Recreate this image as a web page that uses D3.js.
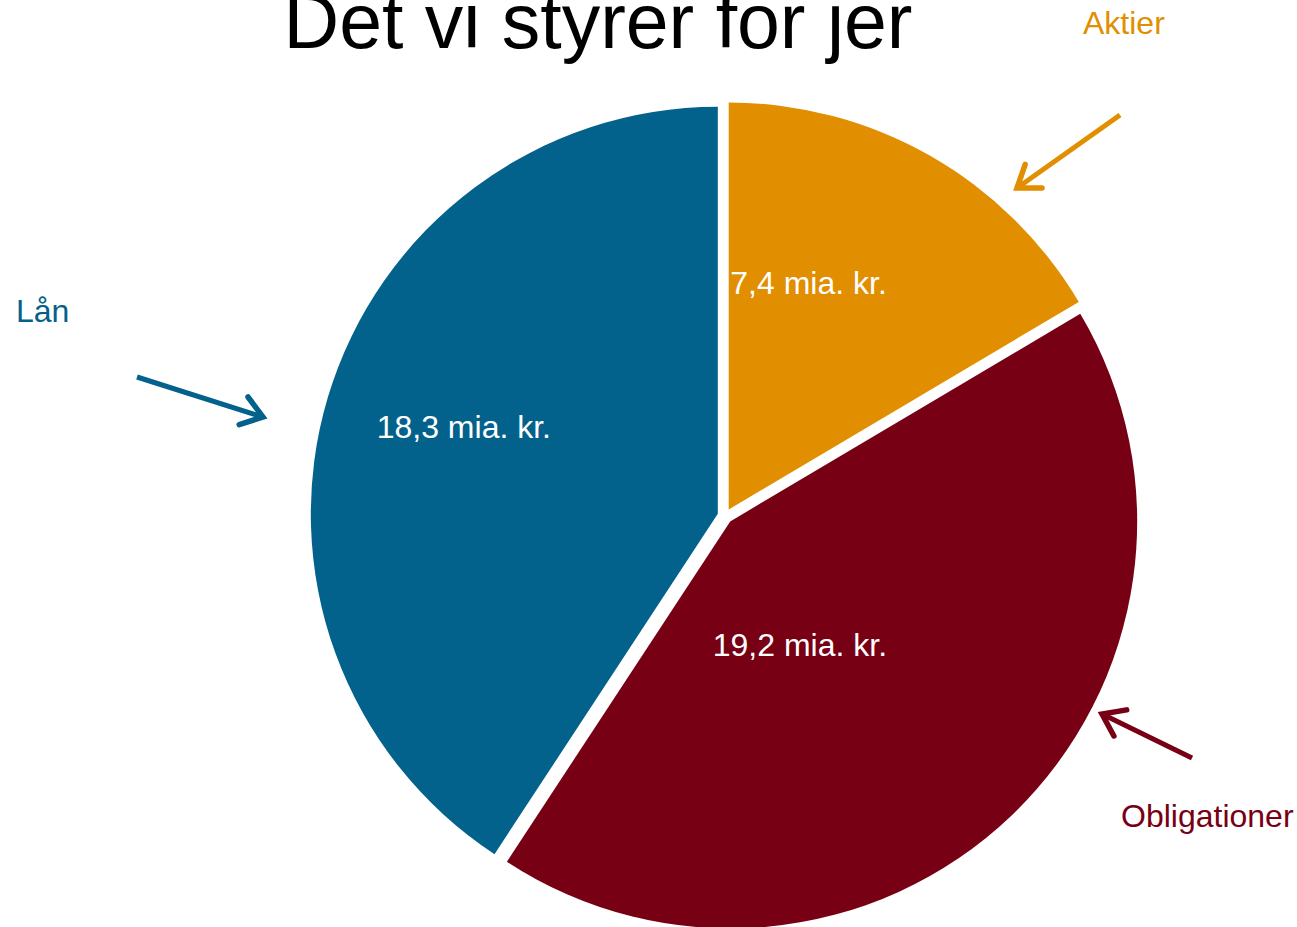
<!DOCTYPE html>
<html>
<head>
<meta charset="utf-8">
<script src="https://d3js.org/d3.v7.min.js"></script>
<style>
  body { margin: 0; background: #fff; }
  text { font-family: "Liberation Sans", Arial, sans-serif; }
</style>
</head>
<body>
<script>
// data
var categories = ["Aktier", "Obligationer", "Lån"];
var values = [7.4, 19.2, 18.3];
var valueLabels = ["7,4 mia. kr.", "19,2 mia. kr.", "18,3 mia. kr."];
var colors = ["#e18e00", "#770014", "#03628c"];
var title = "Det vi styrer for jer";

var W = 1297, H = 927;
var cx = 725, cy = 516, R = 407, explode = 7.5;

var svg = d3.select("body").append("svg")
  .attr("width", W)
  .attr("height", H);

var pie = d3.pie().sort(null).value(function(d) { return d; });
var arcs = pie(values);

var arc = d3.arc().innerRadius(0).outerRadius(R);
var labelArc = d3.arc().innerRadius(R * 0.6).outerRadius(R * 0.6);

// small nudges so labels sit where the original has them
var labelNudge = [[-41, -14], [-99, -53], [-20, -17]];

function offset(d) {
  var a = (d.startAngle + d.endAngle) / 2;
  return [cx + explode * Math.sin(a), cy - explode * Math.cos(a)];
}

var g = svg.selectAll("g.slice")
  .data(arcs)
  .enter()
  .append("g")
  .attr("class", "slice")
  .attr("transform", function(d) { var o = offset(d); return "translate(" + o[0] + "," + o[1] + ")"; });

g.append("path")
  .attr("d", arc)
  .attr("fill", function(d, i) { return colors[i]; });

g.append("text")
  .attr("transform", function(d, i) {
    var c = labelArc.centroid(d);
    return "translate(" + (c[0] + labelNudge[i][0]) + "," + (c[1] + labelNudge[i][1]) + ")";
  })
  .attr("text-anchor", "middle")
  .attr("dy", "0.35em")
  .attr("font-size", 32)
  .attr("fill", "#fff")
  .text(function(d, i) { return valueLabels[i]; });

// title (top is cut by the page edge, as in the original)
svg.append("text")
  .attr("x", 598)
  .attr("y", 48)
  .attr("text-anchor", "middle")
  .attr("font-size", 77)
  .attr("fill", "#000")
  .text(title);

// category callouts: text position + arrow start/end
var callouts = [
  { tx: 1083, ty: 34, x1: 1120, y1: 115, x2: 1017, y2: 188 },
  { tx: 1121, ty: 827, x1: 1192, y1: 758, x2: 1102, y2: 714 },
  { tx: 16, ty: 322, x1: 137, y1: 377, x2: 263, y2: 417 }
];

callouts.forEach(function(c, i) {
  svg.append("text")
    .attr("x", c.tx)
    .attr("y", c.ty)
    .attr("font-size", 32)
    .attr("fill", colors[i])
    .text(categories[i]);

  var ang = Math.atan2(c.y2 - c.y1, c.x2 - c.x1);
  var hl = 25, ha = 0.62;
  var p1 = [c.x2 - hl * Math.cos(ang - ha), c.y2 - hl * Math.sin(ang - ha)];
  var p2 = [c.x2 - hl * Math.cos(ang + ha), c.y2 - hl * Math.sin(ang + ha)];

  svg.append("line")
    .attr("x1", c.x1).attr("y1", c.y1)
    .attr("x2", c.x2).attr("y2", c.y2)
    .attr("stroke", colors[i])
    .attr("stroke-width", 5);

  svg.append("path")
    .attr("d", "M" + p1 + "L" + [c.x2, c.y2] + "L" + p2)
    .attr("fill", "none")
    .attr("stroke", colors[i])
    .attr("stroke-width", 5.5)
    .attr("stroke-linecap", "round")
    .attr("stroke-linejoin", "miter");
});
</script>
</body>
</html>
